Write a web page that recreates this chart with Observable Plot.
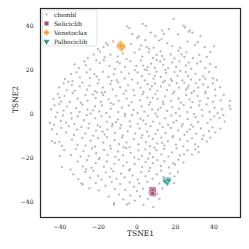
<!DOCTYPE html>
<html><head><meta charset="utf-8">
<script src="https://cdn.jsdelivr.net/npm/d3@7"></script>
<script src="https://cdn.jsdelivr.net/npm/@observablehq/plot@0.6"></script>
<style>body{margin:0;background:#fff}</style>
</head><body><div id="chart"></div>
<script>
const chemblPoints = [
[19,43.5],[24.2,40.4],[25,39.6],[3,41.2],[4.6,40.3],[-5.2,40.1],[-4,39.3],[27.5,38.3],[28.8,37.2],[26.9,37.6],[13.2,38.1],[14,36.6],[7.2,37.2],[0.2,34.8],[1,35.5],[21.3,36.4],[33,35.8],[-2.4,36.6],[9.5,35.7],[16.5,38.8],
[-16,32.5],[-15.1,31.6],[-17.4,30.6],[-12.3,33.2],[-3,32.1],[2.2,31.4],[5.1,30.7],[6.3,29.9],[8.7,30.4],[15.8,32.4],[18.4,31.1],[22.5,30.3],[30.1,31.7],[35.2,30.6],[-20.3,29.8],[11.4,33.6],[26.3,33.1],[12.8,34.2],[4.3,33.8],[31.6,32.9],[40,31],
[-22.5,27.3],[-19.2,28.6],[-13.7,27.2],[-10.1,26.4],[-7.3,27.8],[-5.4,25.2],[-1.2,28.1],[2.8,26.3],[6.1,28.3],[8.3,25.7],[12.3,28.7],[13.1,26.6],[14.2,25.1],[17.6,27.3],[21.5,29],[23.2,27.4],[24.6,26.2],[25.7,28.3],[29.1,25.6],[32.4,27.1],[36.3,26.2],[-25.5,25.7],[1.3,29.6],[10.2,27.1],[38.1,28.4],[-16.8,26.1],[19.5,25.4],
[-30.2,21.1],[-27.3,24.1],[-26.6,22.4],[-21.1,24.6],[-19.4,23.5],[-17.2,24.8],[-14.3,22.1],[-11.5,20.6],[-8.9,23.3],[-6.2,21.7],[-3.4,24.2],[-0.3,22.1],[2.1,24.6],[3.2,22.2],[4.1,20.4],[7.3,23.1],[9.4,21.2],[12.1,24.1],[13.6,22.6],[16.2,21.1],[18.3,23.7],[20.4,21.6],[22.1,24.2],[25.4,22.3],[28.2,20.7],[31.3,23.2],[33.1,24.1],[35.5,21.2],[38,23],[-24.2,20.5],[-1.1,20.2],[10.3,24.7],[-32.4,22.8],[14.8,20.3],[27,23.6],[41,21.5],[-10.2,23.9],[5.6,21.6],
[-37.4,16.1],[-34.2,18.4],[-31.4,19.2],[-29.6,16.9],[-26.1,19.1],[-24.4,16.6],[-22.1,18.4],[-19.8,15.8],[-17.6,19.4],[-14.8,17.1],[-12.1,18.3],[-10.5,15.6],[-8.1,19.3],[-6.4,16.4],[-4.1,18.6],[-2.5,15.9],[0.3,19.1],[2.6,17.4],[4.1,15.5],[6.5,18.4],[8.6,16.3],[10.1,19.4],[12.4,17.1],[14.5,15.4],[15.1,18.9],[17.6,16.2],[19.5,19.3],[21.1,17.6],[23.6,15.5],[25.4,19.3],[26.6,17.4],[28.1,15.9],[30.5,18.5],[32.6,15.8],[34.4,17.4],[37.5,19.3],[39.4,16.4],[41.6,15.6],[-33.5,15.2],[5.3,20.1],[-13.2,15.3],[18.1,15.3],[22.5,19.8],[9.3,17.6],[35.5,16.3],[-20.9,17.3],
[-40.4,12.3],[-38.1,14.2],[-36.5,11.1],[-33.8,13.4],[-32.3,10.8],[-29.7,12.8],[-28.4,14.5],[-25.9,11.3],[-24.6,13.1],[-21.8,10.6],[-20.4,14.1],[-17.7,12.3],[-16.6,10.2],[-13.8,13.9],[-12.6,11.4],[-9.8,14.6],[-8.7,12.4],[-5.7,10.8],[-4.6,13.3],[-1.8,11.1],[0.4,14.3],[1.9,12.2],[3.4,10.3],[5.6,13.8],[6.8,11.4],[9.4,14.1],[10.7,10.8],[12.5,12.7],[13.7,14.7],[15.6,11.2],[16.9,13.3],[19.4,10.4],[20.7,14.3],[21.8,12.2],[24.6,14.4],[25.5,11.3],[26.8,13.1],[29.6,10.6],[30.7,14.2],[31.9,12.3],[34.4,13.7],[35.6,10.4],[36.9,12.4],[39.4,14.1],[40.6,11.3],[43.2,12.4],[-35.6,14.9],[-20.7,10.1],[7.8,12.9],[26.4,12.1],
[-43.4,7.1],[-41.1,9.3],[-39.3,5.9],[-37.6,8.4],[-34.8,5.7],[-33.4,9.7],[-30.9,7.2],[-29.1,5.3],[-26.7,8.8],[-25.6,6.3],[-22.9,9.1],[-21.4,7.4],[-18.7,5.8],[-17.5,8.9],[-14.8,6.9],[-13.6,5.2],[-10.8,8.5],[-9.5,6.3],[-6.9,9.4],[-5.4,7.2],[-2.8,5.6],[-1.3,8.7],[1.5,6.4],[2.9,9.2],[5.4,7.7],[6.8,5.5],[9.6,9.3],[10.7,7.1],[13.5,5.8],[14.6,8.3],[17.6,6.2],[18.7,9.5],[21.6,7.3],[22.8,5.4],[25.5,8.9],[27.4,6.8],[28.8,5.6],[31.5,8.4],[32.7,6.1],[35.6,9.6],[36.9,7.5],[39.4,5.7],[40.8,8.6],[43.5,6.4],[45.1,8.9],[-18.2,9.9],[8.2,7.6],[28.4,9.8],[48.4,6.2],[-40.2,7.7],
[-44.6,2.3],[-42.8,4.2],[-40.3,4.7],[-38.1,1.8],[-36.4,3.6],[-34.2,0.6],[-31.6,2.9],[-29.8,1.2],[-28.3,4.4],[-25.7,2.2],[-24.1,0.4],[-21.8,3.7],[-19.6,1.4],[-18.2,4.1],[-15.9,0.7],[-13.6,2.6],[-12.2,4.6],[-9.7,1.1],[-7.8,3.2],[-6.1,0.3],[-4.3,4.1],[-1.7,2.1],[0.3,0.6],[2.4,3.7],[3.8,1.3],[6.2,4.4],[7.9,2.3],[9.7,0.4],[12.3,3.1],[13.8,4.7],[15.7,1.6],[18.4,3.4],[20.2,0.7],[21.9,2.6],[24.3,4.3],[26.2,1.1],[28.1,3.2],[29.6,0.2],[32.4,4.1],[33.7,2.1],[36.2,4.6],[37.8,1.2],[40.4,3.1],[41.9,0.6],[44.2,2.4],[48.1,4],[48.6,2.6],[-41.3,0.9],[10.9,2.2],[-22.9,1.9],
[-45.3,-3.8],[-43.1,-4.6],[-42.2,-1.2],[-39.6,-2.9],[-38.4,-0.4],[-36.8,-3.7],[-33.9,-1.8],[-32.5,-4.4],[-30.7,-0.9],[-27.6,-2.6],[-26.1,-0.3],[-24.8,-4.1],[-21.7,-1.7],[-20.4,-4.8],[-18.5,-0.8],[-15.6,-3.3],[-14.1,-1.1],[-12.7,-4.3],[-9.8,-2.2],[-8.4,-4.7],[-6.3,-0.7],[-3.7,-3.1],[-2.6,-0.2],[0.4,-4.2],[1.8,-1.9],[4.6,-4.4],[5.7,-0.6],[8.3,-3.2],[10.6,-0.9],[11.8,-4.1],[14.5,-1.7],[16.2,-4.6],[17.9,-0.4],[20.6,-2.8],[22.3,-0.7],[23.7,-4.3],[26.4,-2.1],[28.2,-4.7],[30.5,-1.2],[31.8,-3.4],[34.1,-0.5],[36.7,-3.9],[38.3,-2.3],[40.2,-0.8],[42.8,-1.6],[45.6,-3.2],[44.9,-0.3],[-10.9,-3.5],[19.1,-3.6],[3.2,-2.7],
[-44.2,-6.8],[-41.6,-8.9],[-39.3,-6.1],[-36.8,-8.2],[-35.4,-5.4],[-32.7,-9.3],[-31.1,-6.9],[-28.9,-5.7],[-26.8,-8.6],[-25.2,-6.2],[-22.7,-9.6],[-21.3,-7.3],[-19.1,-5.6],[-16.8,-9.1],[-15.3,-6.9],[-12.9,-5.3],[-11.4,-8.4],[-8.7,-6.2],[-7.4,-9.5],[-4.8,-7.7],[-3.3,-5.4],[-0.9,-8.6],[1.4,-6.3],[2.8,-9.4],[5.3,-7.8],[7.1,-5.3],[9.6,-8.9],[10.8,-7.1],[13.4,-5.7],[14.8,-8.4],[17.6,-6.1],[18.8,-9.7],[21.5,-7.2],[23.3,-5.4],[24.7,-9.2],[27.4,-6.8],[29.2,-5.6],[30.8,-8.7],[33.3,-6.3],[34.6,-9.6],[37.4,-7.6],[39.2,-5.8],[40.7,-8.1],[43.3,-6.4],[-17.9,-7.8],[6.2,-9.8],[26.1,-7.9],
[-44.1,-12.1],[-42.6,-12.9],[-40.3,-12.4],[-38.9,-14.3],[-33.7,-11.4],[-30.9,-13.8],[-28.4,-10.6],[-26.7,-14.1],[-24.1,-11.9],[-21.8,-14.6],[-20.2,-10.7],[-17.5,-12.8],[-15.6,-10.3],[-13.9,-14.2],[-11.6,-11.6],[-9.3,-13.5],[-7.7,-10.4],[-5.4,-12.7],[-3.8,-14.8],[-1.6,-11.2],[0.7,-13.6],[2.3,-10.6],[4.6,-12.5],[6.8,-14.4],[8.2,-11.1],[10.5,-13.2],[12.7,-10.5],[14.3,-14.1],[16.1,-12.2],[18.5,-10.4],[20.3,-13.7],[22.4,-11.3],[24.1,-14.5],[26.3,-12.1],[28.6,-10.8],[30.2,-13.6],[31.8,-14.6],[33.9,-11.2],[36.4,-12.3],[38.1,-10.5],[-6.9,-14.9],[13.1,-12.9],
[-37.8,-16.2],[-34.2,-18.4],[-31.7,-15.7],[-29.3,-19.1],[-27.8,-16.6],[-25.1,-18.9],[-23.4,-15.4],[-21.2,-17.6],[-19.4,-19.7],[-17.1,-16.1],[-15.3,-18.3],[-13.6,-15.5],[-11.2,-19.2],[-9.8,-16.8],[-7.3,-18.6],[-5.6,-15.3],[-3.2,-17.4],[-1.4,-19.5],[0.8,-16.3],[2.6,-18.8],[4.3,-15.8],[6.6,-17.7],[8.4,-19.4],[10.2,-16.2],[12.7,-18.1],[14.1,-15.6],[16.4,-19.1],[18.2,-17.2],[20.6,-15.4],[22.3,-18.6],[24.4,-18.1],[26.2,-16.3],[28.6,-18.2],[30.4,-15.9],[32.1,-17.1],[-40.1,-18.8],[9.1,-15.1],
[-38.9,-23.9],[-34.5,-25],[-30.8,-21.4],[-28.2,-23.6],[-25.9,-20.7],[-23.6,-24.2],[-21.4,-22.1],[-19.8,-20.3],[-17.2,-23.7],[-15.6,-21.3],[-13.3,-24.6],[-11.7,-22.4],[-9.4,-20.6],[-7.1,-23.3],[-5.3,-21.7],[-3.6,-24.8],[-1.2,-22.6],[0.9,-20.4],[2.7,-23.8],[4.5,-21.6],[6.8,-24.3],[8.3,-22.1],[10.6,-20.7],[12.4,-23.4],[14.2,-21.2],[16.7,-24.1],[18.9,-22.2],[19.8,-22.8],[21.6,-20.5],[24.2,-21.8],[-26.4,-24.9],[5.8,-20.1],
[-33.1,-27.2],[-30.4,-29.4],[-26.8,-26.1],[-24.3,-28.7],[-22.6,-25.6],[-20.1,-27.9],[-18.4,-29.6],[-16.2,-26.4],[-14.1,-28.3],[-12.3,-25.8],[-10.6,-29.2],[-8.2,-26.9],[-6.4,-28.6],[-4.1,-25.4],[-2.3,-27.7],[0.4,-29.5],[2.2,-26.3],[4.4,-28.1],[6.3,-25.7],[8.1,-29.3],[10.3,-27.2],[12.6,-25.5],[13.8,-28.4],[17.2,-26.7],[19.5,-28.1],[21.3,-26.2],[-28.9,-31.3],
[-28.2,-31.8],[-24.7,-33.6],[-21.4,-31.2],[-19.8,-34.5],[-16.3,-32.4],[-13.1,-30.7],[-11.4,-33.9],[-8.7,-31.6],[-6.2,-34.2],[-3.8,-30.9],[-1.6,-32.8],[1.2,-31.3],[3.1,-33.7],[5.4,-30.6],[11.6,-31.4],[13.2,-33.6],[19.3,-31.2],[0,-34.8],
[-14.6,-37.3],[-11.8,-40.2],[-9.3,-36.4],[-7.1,-38.6],[-5.2,-40.9],[-3.4,-36.8],[-1.1,-39.1],[1.6,-37.2],[3.4,-41.1],[5.7,-38.3],[8.5,-42.1],[10.6,-36.2],[11.7,-38.4],[-12,-41],[-4,-40.4],[6.4,-35.6]
];
const venetoclaxPoints = [[-8.9,31.9],[-7.6,31.6],[-8.3,30.8],[-7.4,30.4],[-9.1,30.6],[-8.0,29.9],[-8.6,32.3],[-7.2,31.1],[-9.3,31.3],[-8.4,31.4]];
const seliciclibPoints = [[7.4,-33.8],[8.9,-33.9],[7.3,-35.1],[9.0,-35.2],[7.5,-36.2],[8.8,-36.3],[8.2,-34.6],[8.1,-35.8]];
const palbociclibPoints = [[14.8,-29.4],[16.2,-29.3],[15.5,-29.9],[16.7,-30.2],[15.1,-30.6],[15.9,-31.1],[14.6,-30.3],[16.4,-29.8]];
const xTicks = [-40, -20, 0, 20, 40];
const yTicks = [-40, -20, 0, 20, 40];
const legendLabels = ["chembl", "Seliciclib", "Venetoclax", "Palbociclib"];
const xLabel = "TSNE1";
const yLabel = "TSNE2";

const colors = {chembl: "#a0a0a0", Seliciclib: "#ad4d6f", Venetoclax: "#f39c1f", Palbociclib: "#3a9c96"};

const triangleDown = {
  draw(context, size) {
    const a = Math.sqrt(4 * size / Math.sqrt(3));
    const h = a * Math.sqrt(3) / 2;
    context.moveTo(0, 2 * h / 3);
    context.lineTo(-a / 2, -h / 3);
    context.lineTo(a / 2, -h / 3);
    context.closePath();
  }
};

const rows = pts => pts.map(([x, y]) => ({x, y}));

const plot = Plot.plot({
  width: 249, height: 249,
  marginLeft: 40, marginRight: 9, marginTop: 8, marginBottom: 32,
  style: {fontFamily: "DejaVu Serif", fontSize: "6px", background: "white", color: "#222", overflow: "visible"},
  x: {domain: [-50.1, 53.8]},
  y: {domain: [-46.8, 48.2]},
  marks: [
    Plot.dot(rows(chemblPoints), {x: "x", y: "y", r: 1.15, fill: colors.chembl, fillOpacity: 0.75}),
    Plot.dot(rows(seliciclibPoints), {x: "x", y: "y", symbol: "square", r: 2.2, fill: colors.Seliciclib, stroke: "white", strokeWidth: 0.4}),
    Plot.dot(rows(venetoclaxPoints), {x: "x", y: "y", symbol: "cross", r: 2.2, fill: colors.Venetoclax, stroke: "white", strokeWidth: 0.3}),
    Plot.dot(rows(palbociclibPoints), {x: "x", y: "y", symbol: triangleDown, r: 2.2, fill: colors.Palbociclib, stroke: "white", strokeWidth: 0.4}),
    Plot.axisX({ticks: xTicks, tickSize: 0, tickPadding: 7, label: null, fontSize: 6}),
    Plot.axisY({ticks: yTicks, tickSize: 0, tickPadding: 7, label: null, fontSize: 6}),
    Plot.frame({stroke: "#262626", strokeWidth: 1.2}),
    Plot.text([xLabel], {text: d => d, frameAnchor: "bottom", dy: 18.5, fontSize: 7.5, fill: "#222"}),
    Plot.text([yLabel], {text: d => d, frameAnchor: "left", dx: -25, rotate: -90, fontSize: 7.5, fill: "#222"})
  ]
});

document.getElementById("chart").appendChild(plot);

// legend (inside plot, upper left)
const svg = d3.select(plot);
const lg = svg.append("g").attr("font-family", "DejaVu Serif").attr("font-size", 6).attr("text-anchor", "start");
lg.append("rect").attr("x", 42.5).attr("y", 10).attr("width", 54.5).attr("height", 36)
  .attr("rx", 1.5).attr("fill", "white").attr("fill-opacity", 0.85)
  .attr("stroke", "#cfcfcf").attr("stroke-width", 0.6);
const legendSymbols = [d3.symbolCircle, d3.symbolSquare, d3.symbolCross, triangleDown];
const legendSizes = [Math.PI * 1.15 * 1.15, Math.PI * 2.3 * 2.3, Math.PI * 2.3 * 2.3, Math.PI * 2.3 * 2.3];
legendLabels.forEach((lab, i) => {
  const yy = 14.5 + i * 9;
  lg.append("path").attr("d", d3.symbol(legendSymbols[i], legendSizes[i])())
    .attr("transform", `translate(46.5,${yy})`)
    .attr("fill", colors[lab]).attr("fill-opacity", i === 0 ? 0.75 : 1);
  lg.append("text").attr("x", 54).attr("y", yy).attr("dy", "0.35em")
    .attr("text-anchor", "start").attr("fill", "#222").text(lab);
});
</script>
</body></html>
